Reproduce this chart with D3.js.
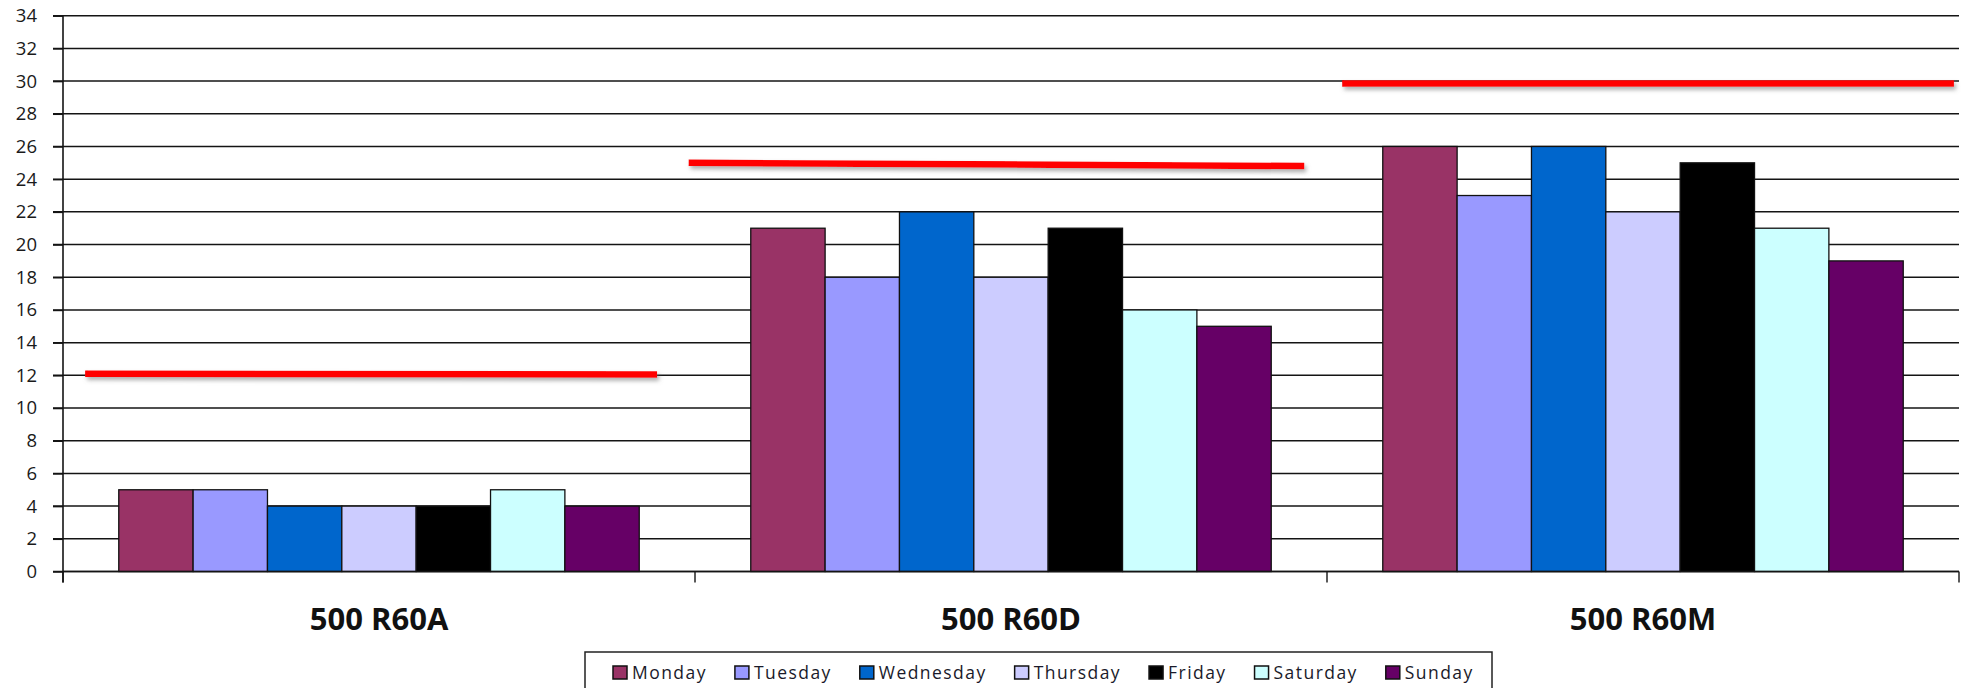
<!DOCTYPE html>
<html>
<head>
<meta charset="utf-8">
<script src="https://cdn.jsdelivr.net/npm/d3@7"></script>
<style>
  body { margin: 0; background: #fff; }
  text { font-family: "Open Sans", sans-serif; }
</style>
</head>
<body>
<script>
// chart data
const categories = ["500 R60A", "500 R60D", "500 R60M"];
const days = ["Monday", "Tuesday", "Wednesday", "Thursday", "Friday", "Saturday", "Sunday"];
const monday    = [5, 21, 26];
const tuesday   = [5, 18, 23];
const wednesday = [4, 22, 26];
const thursday  = [4, 18, 22];
const friday    = [4, 21, 25];
const saturday  = [5, 16, 21];
const sunday    = [4, 15, 19];
const targetStart = [12.1, 25.0, 29.85];
const targetEnd   = [12.05, 24.8, 29.85];
const yTickValues = [0, 2, 4, 6, 8, 10, 12, 14, 16, 18, 20, 22, 24, 26, 28, 30, 32, 34];

const dayColors = ["#993366", "#9999ff", "#0066cc", "#ccccff", "#000000", "#ccffff", "#660066"];
// where each red target line starts/ends inside its category band (fraction of band)
const targetSpan = [[0.035, 0.94], [-0.01, 0.964], [0.024, 0.992]];

const series = [monday, tuesday, wednesday, thursday, friday, saturday, sunday];
const rows = categories.map((c, i) => ({
  cat: c,
  values: days.map((d, j) => ({ day: d, value: series[j][i] }))
}));

const W = 1969, H = 688;
const plotLeft = 63, plotRight = 1959, plotTop = 15.7, plotBottom = 571.5;
const lineColor = "#141414";

const svg = d3.select("body").append("svg")
  .attr("width", W)
  .attr("height", H);

// shadow under the red lines (user space, so flat lines still get it)
const defs = svg.append("defs");
const f = defs.append("filter").attr("id", "shadow")
  .attr("filterUnits", "userSpaceOnUse")
  .attr("x", 0).attr("y", 0).attr("width", W).attr("height", H);
f.append("feDropShadow")
  .attr("dx", 2).attr("dy", 3).attr("stdDeviation", 2)
  .attr("flood-color", "#777").attr("flood-opacity", 0.6);

const x0 = d3.scaleBand().domain(categories).range([plotLeft, plotRight]).padding(0);
const x1 = d3.scaleBand().domain(days).range([0, x0.bandwidth()])
  .paddingInner(0).paddingOuter(0.75);
const y = d3.scaleLinear().domain([0, 34]).range([plotBottom, plotTop]);

// gridlines
svg.append("g").selectAll("line")
  .data(yTickValues)
  .enter().append("line")
  .attr("x1", plotLeft - 10).attr("x2", plotRight)
  .attr("y1", d => y(d)).attr("y2", d => y(d))
  .attr("stroke", lineColor)
  .attr("stroke-width", 1.5);

// bars
const groups = svg.append("g").selectAll("g")
  .data(rows)
  .enter().append("g")
  .attr("transform", d => `translate(${x0(d.cat)},0)`);

groups.selectAll("rect")
  .data(d => d.values)
  .enter().append("rect")
  .attr("x", d => x1(d.day))
  .attr("y", d => y(d.value))
  .attr("width", x1.bandwidth())
  .attr("height", d => y(0) - y(d.value))
  .attr("fill", (d, i) => dayColors[i])
  .attr("stroke", "#111")
  .attr("stroke-width", 1.3);

// y axis
const yAxis = svg.append("g")
  .attr("transform", `translate(${plotLeft},0)`)
  .call(d3.axisLeft(y).tickValues(yTickValues).tickSize(10).tickPadding(16));
yAxis.select(".domain").remove();
yAxis.selectAll(".tick line").attr("stroke", lineColor).attr("stroke-width", 1.5);
yAxis.selectAll(".tick text")
  .attr("font-family", "Open Sans, sans-serif")
  .attr("font-size", 18.5)
  .attr("fill", "#1a1a1a");
svg.append("line")
  .attr("x1", plotLeft).attr("x2", plotLeft)
  .attr("y1", y(34)).attr("y2", y(0) + 11)
  .attr("stroke", lineColor).attr("stroke-width", 1.6);

// x axis ticks at category boundaries
const bounds = categories.map(c => x0(c)).concat([x0(categories[categories.length - 1]) + x0.bandwidth()]);
svg.append("g").selectAll("line")
  .data(bounds)
  .enter().append("line")
  .attr("x1", d => d).attr("x2", d => d)
  .attr("y1", y(0)).attr("y2", y(0) + 11)
  .attr("stroke", lineColor).attr("stroke-width", 1.4);
svg.append("line")
  .attr("x1", plotLeft).attr("x2", plotRight)
  .attr("y1", y(0)).attr("y2", y(0))
  .attr("stroke", lineColor).attr("stroke-width", 1.6);

svg.append("g").selectAll("text")
  .data(categories)
  .enter().append("text")
  .attr("x", d => x0(d) + x0.bandwidth() / 2)
  .attr("y", 630)
  .attr("text-anchor", "middle")
  .attr("font-size", 31)
  .attr("font-weight", "bold")
  .attr("fill", "#111")
  .text(d => d);

// red target lines
svg.append("g").selectAll("line")
  .data(categories)
  .enter().append("line")
  .attr("x1", (d, i) => x0(d) + targetSpan[i][0] * x0.bandwidth())
  .attr("x2", (d, i) => x0(d) + targetSpan[i][1] * x0.bandwidth())
  .attr("y1", (d, i) => y(targetStart[i]))
  .attr("y2", (d, i) => y(targetEnd[i]))
  .attr("stroke", "#ff0000")
  .attr("stroke-width", 6.5)
  .attr("filter", "url(#shadow)");

// legend
const legend = svg.append("g");
legend.append("rect")
  .attr("x", 585).attr("y", 652)
  .attr("width", 1492 - 585).attr("height", 60)
  .attr("fill", "#fff")
  .attr("stroke", "#222").attr("stroke-width", 1.5);

let lx = 613;
days.forEach((d, i) => {
  legend.append("rect")
    .attr("x", lx).attr("y", 666)
    .attr("width", 14).attr("height", 13)
    .attr("fill", dayColors[i])
    .attr("stroke", "#111").attr("stroke-width", 1.5);
  const t = legend.append("text")
    .attr("x", lx + 19).attr("y", 679)
    .attr("font-size", 17.5)
    .attr("letter-spacing", 1.45)
    .attr("fill", "#1a1a2a")
    .text(d);
  lx += 19 + t.node().getComputedTextLength() + 28;
});
</script>
</body>
</html>
